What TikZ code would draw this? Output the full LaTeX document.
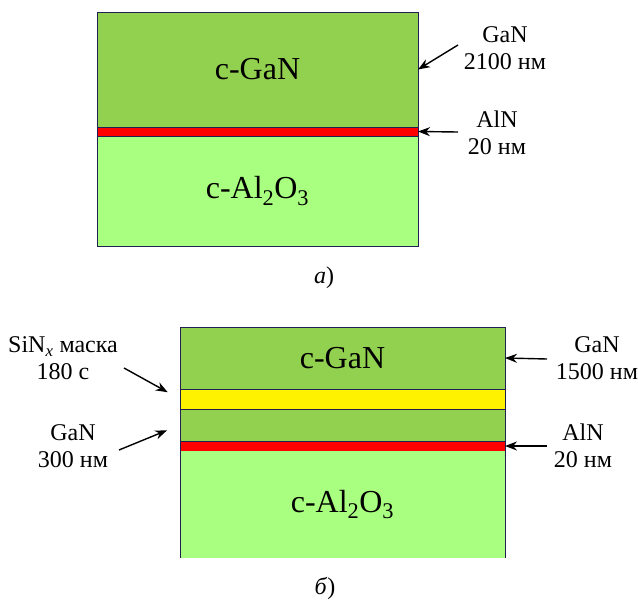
\documentclass[tikz,border=0pt]{standalone}
\usepackage{fontspec}
\setmainfont{Liberation Serif}
\usetikzlibrary{positioning, arrows.meta}
\definecolor{gan}{HTML}{92D050}
\definecolor{sapph}{HTML}{A9FF7F}
\definecolor{edge}{HTML}{1F2050}

\begin{document}
\begin{tikzpicture}[x=1pt, y=-1pt,
    layer/.style={rectangle, draw=edge, line width=1pt, inner sep=0pt, outer sep=0pt, align=center, font=\fontsize{32}{36}\selectfont},
    lbl/.style={align=center, font=\fontsize{24}{27}\selectfont, inner sep=1pt},
    arrow/.style={-{Stealth[length=12pt, width=9pt]}, line width=1.4pt, black}
  ]
  \useasboundingbox (0,0) rectangle (638,603);

  % panel a
  \node[layer, fill=gan, minimum width=321pt, minimum height=115pt, anchor=north west] (gana) at (97,12) {c-GaN};
  \node[layer, fill=red, minimum width=321pt, minimum height=9pt, below=0pt of gana] (alna) {};
  \node[layer, fill=sapph, minimum width=321pt, minimum height=110pt, below=0pt of alna] (suba) {c-Al\textsubscript{2}O\textsubscript{3}};

  \node[lbl] (lgana) at (505,48) {GaN\\2100 нм};
  \node[lbl] (lalna) at (497,133) {AlN\\20 нм};
  \node[lbl] (capa) at (324,278) {\textit{а})};

  \coordinate (tgana) at (458,45);
  \coordinate (talna) at (458,132);
  \draw[arrow] (tgana) -- (gana.east);
  \draw[arrow] (talna) -- (alna.east);

  % panel b
  \node[layer, fill=gan, minimum width=325pt, minimum height=62pt, anchor=north west] (ganb) at (180,327) {c-GaN};
  \node[layer, fill=yellow, minimum width=325pt, minimum height=20pt, below=0pt of ganb] (maskb) {};
  \node[layer, fill=gan, minimum width=325pt, minimum height=32pt, below=0pt of maskb] (bufb) {};
  \node[layer, fill=red, minimum width=325pt, minimum height=10pt, below=0pt of bufb] (alnb) {};
  \node[layer, draw=none, fill=sapph, minimum width=325pt, minimum height=107pt, below=0pt of alnb] (subb) {c-Al\textsubscript{2}O\textsubscript{3}};
  \draw[edge, line width=1pt] (subb.south west) -- (subb.north west) (subb.north east) -- (subb.south east);

  \node[lbl] (lganb) at (597,358) {GaN\\1500 нм};
  \node[lbl] (lalnb) at (583,446) {AlN\\20 нм};
  \node[lbl] (lmask) at (63,358) {SiN\textsubscript{\textit{x}} маска\\180 с};
  \node[lbl] (lbufb) at (73,446) {GaN\\300 нм};
  \node[lbl] (capb) at (325,588) {\textit{б})};

  \coordinate (tganb) at (547,359);
  \coordinate (talnb) at (547,446);
  \coordinate (tmask) at (124,368);
  \coordinate (tbufb) at (119,450);
  \draw[arrow] (tganb) -- (ganb.east);
  \draw[arrow] (talnb) -- (alnb.east);
  \draw[arrow, shorten >=14pt] (tmask) -- (maskb.west);
  \draw[arrow, shorten >=14pt] (tbufb) -- (bufb.west);

\end{tikzpicture}
\end{document}
